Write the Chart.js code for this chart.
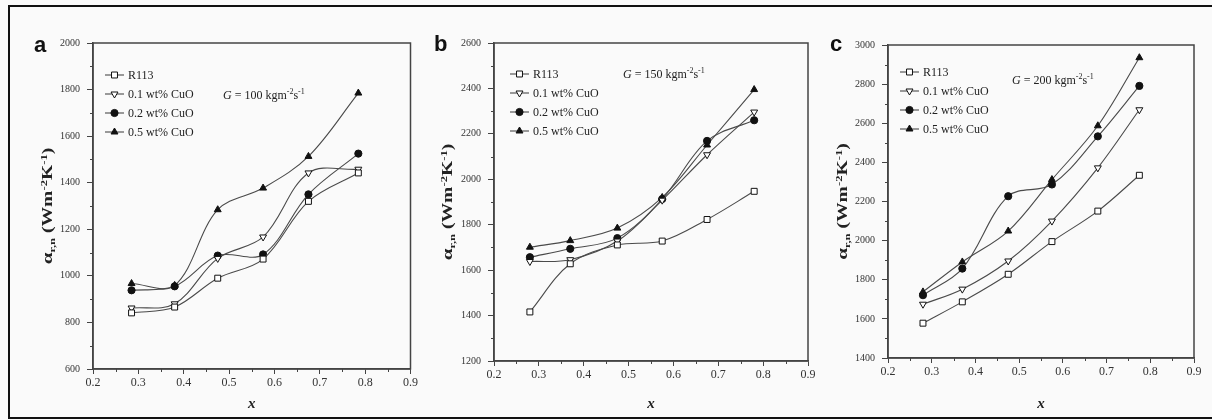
<!DOCTYPE html>
<html>
<head>
<meta charset="utf-8">
<script src="https://cdn.jsdelivr.net/npm/chart.js@4.4.0/dist/chart.umd.min.js"></script>
<style>
  body { margin: 0; background: #fafafa; width: 1212px; height: 420px; overflow: hidden; }
  #frame { position: absolute; left: 8px; top: 5px; width: 1210px; height: 410px; border: 2px solid #111; border-right: none; }
  canvas { position: absolute; }
  .tag { position: absolute; font: bold 22px "Liberation Sans", Arial, sans-serif; line-height: 22px; color: #111; }
</style>
</head>
<body>
<div id="frame"></div>
<canvas id="chartA" width="390" height="388" style="left:30px;top:30px"></canvas>
<canvas id="chartB" width="390" height="388" style="left:430px;top:30px"></canvas>
<canvas id="chartC" width="380" height="388" style="left:825px;top:30px"></canvas>
<div class="tag" style="left:34px;top:34px">a</div>
<div class="tag" style="left:434px;top:33px">b</div>
<div class="tag" style="left:830px;top:33px">c</div>
<script>
const SERIF = '"Liberation Serif", "Times New Roman", serif';
const labels = ["R113", "0.1 wt% CuO", "0.2 wt% CuO", "0.5 wt% CuO"];

// panel a : G = 100
const xA = [0.285, 0.38, 0.475, 0.575, 0.675, 0.785];
const aR113 = [841, 866, 990, 1072, 1320, 1442];
const aCuO1 = [862, 880, 1075, 1167, 1442, 1458];
const aCuO2 = [938, 955, 1087, 1092, 1350, 1525];
const aCuO5 = [967, 959, 1284, 1377, 1513, 1785];

// panel b : G = 150
const xB = [0.28, 0.37, 0.475, 0.575, 0.675, 0.78];
const bR113 = [1416, 1628, 1711, 1728, 1823, 1947];
const bCuO1 = [1638, 1646, 1728, 1908, 2108, 2296];
const bCuO2 = [1657, 1694, 1741, 1913, 2169, 2260];
const bCuO5 = [1701, 1730, 1785, 1920, 2151, 2395];

// panel c : G = 200
const xC = [0.28, 0.37, 0.475, 0.575, 0.68, 0.775];
const cR113 = [1578, 1687, 1828, 1995, 2151, 2334];
const cCuO1 = [1675, 1752, 1896, 2100, 2372, 2669];
const cCuO2 = [1721, 1857, 2227, 2287, 2533, 2791];
const cCuO5 = [1738, 1891, 2049, 2312, 2587, 2935];

const xTicks = [0.2, 0.9, 0.1];
const yTicksA = [600, 2000, 200];
const yTicksB = [1200, 2600, 200];
const yTicksC = [1400, 3000, 200];

const marks = [
  { pointStyle: 'rect', rotation: 0, filled: false, radius: 4.2 },
  { pointStyle: 'triangle', rotation: 180, filled: false, radius: 4 },
  { pointStyle: 'circle', rotation: 0, filled: true, radius: 3.6 },
  { pointStyle: 'triangle', rotation: 0, filled: true, radius: 4 }
];

function makeSets(xs, rows) {
  return rows.map((vals, i) => ({
    label: labels[i],
    data: xs.map((x, j) => ({ x: x, y: vals[j] })),
    borderColor: '#4a4a4a',
    borderWidth: 1.1,
    tension: 0.35,
    pointStyle: marks[i].pointStyle,
    pointRotation: marks[i].rotation,
    pointRadius: marks[i].radius,
    pointBorderWidth: 1,
    pointBorderColor: '#111',
    pointBackgroundColor: marks[i].filled ? '#111' : '#fff'
  }));
}

// box, minor ticks, legend, G label, y title
const extras = {
  id: 'extras',
  afterDraw(chart, args, o) {
    const { ctx, chartArea: a, scales: { x, y } } = chart;
    ctx.save();
    ctx.strokeStyle = '#444';
    ctx.lineWidth = 1.5;
    ctx.strokeRect(a.left, a.top, a.right - a.left, a.bottom - a.top);

    ctx.lineWidth = 1;
    ctx.beginPath();
    for (let v = x.min + 0.05; v < x.max; v += 0.1) {
      const px = Math.round(x.getPixelForValue(v)) + 0.5;
      ctx.moveTo(px, a.bottom); ctx.lineTo(px, a.bottom + 3);
    }
    for (let v = y.min + 100; v < y.max; v += 200) {
      const py = Math.round(y.getPixelForValue(v)) + 0.5;
      ctx.moveTo(a.left, py); ctx.lineTo(a.left - 3, py);
    }
    ctx.stroke();

    // legend
    const lx = a.left + o.legend[0], ly = a.top + o.legend[1];
    chart.data.datasets.forEach((ds, i) => {
      const yy = ly + i * 19;
      ctx.strokeStyle = ds.borderColor;
      ctx.lineWidth = ds.borderWidth;
      ctx.beginPath(); ctx.moveTo(lx, yy); ctx.lineTo(lx + 19, yy); ctx.stroke();
      ctx.fillStyle = ds.pointBackgroundColor;
      ctx.strokeStyle = ds.pointBorderColor;
      ctx.lineWidth = 1;
      Chart.helpers.drawPoint(ctx, { pointStyle: ds.pointStyle, rotation: ds.pointRotation, radius: ds.pointRadius, borderWidth: 1 }, lx + 9.5, yy);
      ctx.fillStyle = '#222';
      ctx.font = '12px ' + SERIF;
      ctx.textBaseline = 'middle';
      ctx.textAlign = 'left';
      ctx.fillText(ds.label, lx + 23, yy + 1);
    });

    // G = ... kgm-2s-1
    let gx = a.left + o.g[0];
    const gy = a.top + o.g[1];
    const parts = [
      ['G', 'italic 12px ', 0], [' = ' + o.g[2] + ' kgm', '12px ', 0],
      ['-2', '8px ', -5], ['s', '12px ', 0], ['-1', '8px ', -5]
    ];
    ctx.fillStyle = '#222';
    ctx.textBaseline = 'alphabetic';
    parts.forEach(p => {
      ctx.font = p[1] + SERIF;
      ctx.fillText(p[0], gx, gy + 4 + p[2]);
      gx += ctx.measureText(p[0]).width;
    });

    // y title with sub and superscripts, rotated
    const tparts = [
      ['\u03b1', 'bold 15px ', 0], ['r,n', 'bold 9px ', 3], [' (Wm', 'bold 14px ', 0],
      ['-2', 'bold 9px ', -5], ['K', 'bold 14px ', 0], ['-1', 'bold 9px ', -5], [')', 'bold 14px ', 0]
    ];
    let total = 0;
    tparts.forEach(p => { ctx.font = p[1] + SERIF; total += ctx.measureText(p[0]).width; });
    ctx.translate(a.left + o.yTitle, (a.top + a.bottom) / 2);
    ctx.rotate(-Math.PI / 2);
    ctx.scale(1.4, 1);
    let tx = -total / 2;
    ctx.fillStyle = '#222';
    tparts.forEach(p => {
      ctx.font = p[1] + SERIF;
      ctx.fillText(p[0], tx, 5 + p[2]);
      tx += ctx.measureText(p[0]).width;
    });
    ctx.restore();
  }
};

function makeChart(id, xs, rows, yt, cfg) {
  return new Chart(document.getElementById(id), {
    type: 'line',
    data: { datasets: makeSets(xs, rows) },
    options: {
      responsive: false,
      animation: false,
      devicePixelRatio: 1,
      layout: { padding: cfg.pad },
      plugins: {
        legend: { display: false },
        tooltip: { enabled: false },
        extras: { legend: cfg.legend, g: cfg.g, yTitle: cfg.yTitle }
      },
      scales: {
        x: {
          type: 'linear',
          min: xTicks[0], max: xTicks[1],
          ticks: { stepSize: xTicks[2], callback: v => v.toFixed(1), autoSkip: false, maxRotation: 0,
                   font: { family: SERIF, size: 12 }, color: '#333', padding: 2 },
          grid: { drawOnChartArea: false, tickLength: 5, color: '#444' },
          border: { color: '#444', width: 1.5 },
          title: { display: true, text: 'x', color: '#222', padding: { top: 0, bottom: 5 },
                   font: { family: SERIF, size: 15, style: 'italic', weight: 'bold' } },
          afterFit: s => { s.height = cfg.xh; }
        },
        y: {
          min: yt[0], max: yt[1],
          ticks: { stepSize: yt[2], callback: v => String(v), font: { family: SERIF, size: 10 }, color: '#333', padding: 7 },
          grid: { drawOnChartArea: false, tickLength: 6, color: '#444' },
          border: { color: '#444', width: 1.5 },
          afterFit: s => { s.width = cfg.yw; }
        }
      }
    },
    plugins: [extras]
  });
}

makeChart('chartA', xA, [aR113, aCuO1, aCuO2, aCuO5], yTicksA,
  { pad: { left: 9, top: 13, right: 9, bottom: 0 }, xh: 49, yw: 54, legend: [12, 32], g: [130, 52, 100], yTitle: -46 });
makeChart('chartB', xB, [bR113, bCuO1, bCuO2, bCuO5], yTicksB,
  { pad: { left: 9, top: 12, right: 12, bottom: 0 }, xh: 57, yw: 55, legend: [16, 31], g: [129, 31, 150], yTitle: -47 });
makeChart('chartC', xC, [cR113, cCuO1, cCuO2, cCuO5], yTicksC,
  { pad: { left: 9, top: 15, right: 11, bottom: 0 }, xh: 60, yw: 54, legend: [12, 27], g: [124, 35, 200], yTitle: -46 });
</script>
</body>
</html>
